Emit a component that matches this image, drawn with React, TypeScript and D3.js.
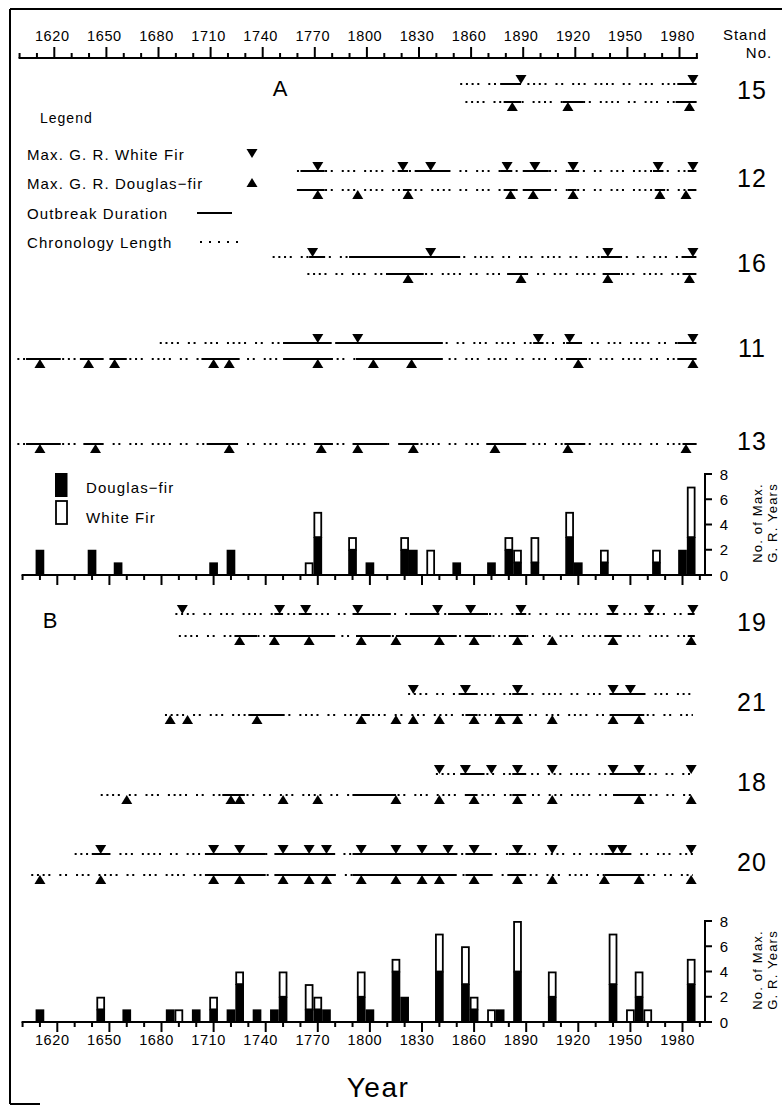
import React from "react";
import * as d3 from "d3";

// ---------- axis data ----------
const axisTickYears = d3.range(1600, 1991, 10);
const axisLabelYears = d3.range(1620, 1981, 30);
const countTicks = [0, 2, 4, 6, 8];

// ---------- legend texts ----------
const legendItems = ["Max. G. R. White Fir", "Max. G. R. Douglas\u2212fir", "Outbreak Duration", "Chronology Length"];
const histLegend = ["Douglas\u2212fir", "White Fir"];

// ---------- Panel A stands ----------
const s15WF = { start: 1852, end: 1988, outbreaks: [[1875, 1887], [1977, 1988]], peaks: [1887, 1986] };
const s15DF = { start: 1855, end: 1988, outbreaks: [[1877, 1887], [1911, 1923], [1976, 1988]], peaks: [1882, 1914, 1984] };
const s12WF = { start: 1758, end: 1988, outbreaks: [[1760, 1774], [1816, 1822], [1826, 1846], [1875, 1882], [1888, 1903], [1914, 1920], [1963, 1969], [1983, 1988]], peaks: [1770, 1819, 1835, 1879, 1895, 1917, 1966, 1986] };
const s12DF = { start: 1758, end: 1988, outbreaks: [[1758, 1774], [1819, 1824], [1877, 1884], [1888, 1904], [1914, 1919], [1964, 1970], [1983, 1988]], peaks: [1770, 1793, 1822, 1881, 1894, 1917, 1967, 1982] };
const s16WF = { start: 1744, end: 1988, outbreaks: [[1765, 1774], [1788, 1852], [1933, 1944], [1980, 1988]], peaks: [1767, 1835, 1937, 1986] };
const s16DF = { start: 1764, end: 1988, outbreaks: [[1810, 1831], [1879, 1890], [1934, 1944], [1980, 1988]], peaks: [1822, 1887, 1937, 1984] };
const s11WF = { start: 1679, end: 1988, outbreaks: [[1750, 1778], [1780, 1842], [1894, 1900], [1913, 1921], [1977, 1988]], peaks: [1770, 1793, 1897, 1915, 1986] };
const s11DF = { start: 1597, end: 1988, outbreaks: [[1602, 1622], [1633, 1646], [1650, 1660], [1703, 1725], [1750, 1778], [1792, 1842], [1913, 1925], [1977, 1988]], peaks: [1610, 1638, 1653, 1710, 1719, 1770, 1802, 1824, 1920, 1986] };
const s13DF = { start: 1597, end: 1988, outbreaks: [[1602, 1622], [1635, 1646], [1706, 1724], [1768, 1778], [1790, 1810], [1817, 1828], [1867, 1890], [1912, 1924], [1980, 1988]], peaks: [1610, 1642, 1719, 1772, 1793, 1825, 1872, 1914, 1982] };

// ---------- Panel A histogram ----------
const histAYears = [1610, 1640, 1655, 1710, 1720, 1765, 1770, 1790, 1800, 1820, 1825, 1835, 1850, 1870, 1880, 1885, 1895, 1915, 1920, 1935, 1965, 1980, 1985];
const histADF = [2, 2, 1, 1, 2, 0, 3, 2, 1, 2, 2, 0, 1, 1, 2, 1, 1, 3, 1, 1, 1, 2, 3];
const histAWF = [0, 0, 0, 0, 0, 1, 2, 1, 0, 1, 0, 2, 0, 0, 1, 1, 2, 2, 0, 1, 1, 0, 4];

// ---------- Panel B stands ----------
const s19WF = { start: 1688, end: 1987, outbreaks: [[1745, 1750], [1760, 1766], [1790, 1812], [1823, 1840], [1845, 1868], [1884, 1890], [1937, 1943], [1958, 1963], [1983, 1987]], peaks: [1692, 1748, 1763, 1793, 1839, 1858, 1887, 1940, 1961, 1986] };
const s19DF = { start: 1690, end: 1987, outbreaks: [[1722, 1735], [1742, 1780], [1792, 1812], [1815, 1850], [1855, 1870], [1880, 1890], [1935, 1945], [1983, 1987]], peaks: [1725, 1745, 1765, 1795, 1815, 1840, 1860, 1885, 1905, 1940, 1985] };
const s21WF = { start: 1822, end: 1986, outbreaks: [[1852, 1862], [1882, 1890], [1938, 1958]], peaks: [1825, 1855, 1885, 1940, 1950] };
const s21DF = { start: 1682, end: 1986, outbreaks: [[1730, 1750], [1795, 1800], [1855, 1862], [1872, 1888], [1938, 1958]], peaks: [1685, 1695, 1735, 1795, 1815, 1825, 1840, 1860, 1875, 1885, 1905, 1940, 1955] };
const s18WF = { start: 1838, end: 1986, outbreaks: [[1852, 1866], [1882, 1890], [1938, 1958]], peaks: [1840, 1855, 1870, 1885, 1905, 1940, 1955, 1985] };
const s18DF = { start: 1645, end: 1986, outbreaks: [[1715, 1728], [1790, 1815], [1855, 1862], [1882, 1890], [1940, 1958]], peaks: [1660, 1720, 1725, 1750, 1770, 1815, 1840, 1860, 1885, 1905, 1955, 1985] };
const s20WF = { start: 1630, end: 1986, outbreaks: [[1640, 1650], [1705, 1740], [1745, 1780], [1790, 1850], [1855, 1870], [1880, 1890], [1935, 1950]], peaks: [1645, 1710, 1725, 1750, 1765, 1775, 1795, 1815, 1830, 1845, 1860, 1885, 1905, 1940, 1945, 1985] };
const s20DF = { start: 1605, end: 1986, outbreaks: [[1705, 1740], [1745, 1780], [1790, 1850], [1855, 1870], [1880, 1890], [1935, 1958]], peaks: [1610, 1645, 1710, 1725, 1750, 1765, 1775, 1795, 1815, 1830, 1840, 1860, 1885, 1905, 1935, 1955, 1985] };

// ---------- Panel B histogram ----------
const histBYears = [1610, 1645, 1660, 1685, 1690, 1700, 1710, 1720, 1725, 1735, 1745, 1750, 1765, 1770, 1775, 1795, 1800, 1815, 1820, 1840, 1855, 1860, 1870, 1875, 1885, 1905, 1940, 1950, 1955, 1960, 1985];
const histBDF = [1, 1, 1, 1, 0, 1, 1, 1, 3, 1, 1, 2, 1, 1, 1, 2, 1, 4, 2, 4, 3, 1, 0, 1, 4, 2, 3, 0, 2, 0, 3];
const histBWF = [0, 1, 0, 0, 1, 0, 1, 0, 1, 0, 0, 2, 2, 1, 0, 2, 0, 1, 0, 3, 3, 1, 1, 0, 4, 2, 4, 1, 2, 1, 2];

const FONT = "'Liberation Sans', Arial, sans-serif";
const DOTS = "2 3.7 2 3.7 2 3.7 2 9 2 3.7 2 9 2 3.7 2 3.7 2 9";

type RowData = { start: number; end: number; outbreaks: number[][]; peaks: number[] };

const x = d3.scaleLinear().domain([1620, 1980]).range([57.3, 682.5]);

function tri(cx: number, cy: number, down: boolean, w = 11, h = 9) {
  const p = d3.path();
  if (down) {
    p.moveTo(cx - w / 2, cy - h);
    p.lineTo(cx + w / 2, cy - h);
    p.lineTo(cx, cy);
  } else {
    p.moveTo(cx, cy);
    p.lineTo(cx - w / 2, cy + h);
    p.lineTo(cx + w / 2, cy + h);
  }
  p.closePath();
  return p.toString();
}

function StandRow({ row, y, down }: { row: RowData; y: number; down: boolean }) {
  return (
    <g>
      <line x1={x(row.start)} x2={x(row.end)} y1={y} y2={y} stroke="#000" strokeWidth={2} strokeDasharray={DOTS} />
      {row.outbreaks.map((o, i) => (
        <line key={i} x1={x(o[0])} x2={x(o[1])} y1={y} y2={y} stroke="#000" strokeWidth={2} />
      ))}
      {row.peaks.map((p, i) => (
        <path key={"t" + i} d={tri(x(p), y, down)} fill="#000" />
      ))}
    </g>
  );
}

function Stand({ id, wf, df, yWF, yDF }: { id: string; wf?: RowData; df?: RowData; yWF?: number; yDF: number }) {
  const mid = wf && yWF !== undefined ? (yWF + yDF) / 2 : yDF;
  return (
    <g>
      {wf && yWF !== undefined && <StandRow row={wf} y={yWF} down={true} />}
      {df && <StandRow row={df} y={yDF} down={false} />}
      <text x={752} y={mid - 3} fontSize={25} fontFamily={FONT} textAnchor="middle" dominantBaseline="central" letterSpacing={1}>
        {id}
      </text>
    </g>
  );
}

function Histogram({ years, df, wf, base }: { years: number[]; df: number[]; wf: number[]; base: number }) {
  const y = d3.scaleLinear().domain([0, 8]).range([base, base - 101]);
  const axisX = 705;
  return (
    <g>
      {years.map((yr, i) => {
        const x0 = x(yr - 2.5);
        const x1 = x(yr + 2.5);
        return (
          <g key={yr}>
            {df[i] > 0 && <rect x={x0} y={y(df[i])} width={x1 - x0} height={y(0) - y(df[i])} fill="#000" />}
            {wf[i] > 0 && (
              <rect x={x0 + 0.9} y={y(df[i] + wf[i]) + 0.9} width={x1 - x0 - 1.8} height={y(df[i]) - y(df[i] + wf[i]) - 0.9} fill="#fff" stroke="#000" strokeWidth={1.8} />
            )}
          </g>
        );
      })}
      <line x1={x(1600) - 1} x2={axisX} y1={base} y2={base} stroke="#000" strokeWidth={2} />
      {axisTickYears.map((t) => (
        <line key={t} x1={x(t)} x2={x(t)} y1={base} y2={base + ((t - 1620) % 30 === 0 ? 10 : 5)} stroke="#000" strokeWidth={2} />
      ))}
      <line x1={axisX} x2={axisX} y1={base + 1} y2={y(8) - 1} stroke="#000" strokeWidth={2} />
      {countTicks.map((c) => (
        <g key={c}>
          <line x1={axisX} x2={axisX + 7} y1={y(c)} y2={y(c)} stroke="#000" strokeWidth={2} />
          <text x={724} y={y(c)} fontSize={15} fontFamily={FONT} textAnchor="middle" dominantBaseline="central">
            {c}
          </text>
        </g>
      ))}
      <g transform={`translate(0, ${base - 52})`}>
        <text transform="translate(757,0) rotate(-90)" fontSize={13} fontFamily={FONT} textAnchor="middle" dominantBaseline="central" letterSpacing={1.2}>
          No. of Max.
        </text>
        <text transform="translate(772,0) rotate(-90)" fontSize={13} fontFamily={FONT} textAnchor="middle" dominantBaseline="central" letterSpacing={1.2}>
          G. R. Years
        </text>
      </g>
    </g>
  );
}

export default function App() {
  const topY = 58;
  const histABase = 575;
  const histBBase = 1022;
  return (
    <svg width={782} height={1109} style={{ position: "absolute", left: 0, top: 0, background: "#fff" }}>
      <rect x={0} y={0} width={782} height={1109} fill="#fff" />
      {/* frame */}
      <line x1={10} x2={782} y1={9} y2={9} stroke="#000" strokeWidth={2} />
      <line x1={10} x2={10} y1={9} y2={1104} stroke="#000" strokeWidth={2} />
      <line x1={10} x2={40} y1={1104} y2={1104} stroke="#000" strokeWidth={2} />

      {/* top axis */}
      <line x1={x(1600) - 4} x2={x(1990) - 2} y1={topY} y2={topY} stroke="#000" strokeWidth={2} />
      {axisTickYears.map((t) => (
        <line key={t} x1={x(t) - 3} x2={x(t) - 3} y1={topY} y2={topY - ((t - 1620) % 30 === 0 ? 11 : 5)} stroke="#000" strokeWidth={2} />
      ))}
      {axisLabelYears.map((t) => (
        <text key={t} x={x(t) - 5} y={36} fontSize={14.5} fontFamily={FONT} textAnchor="middle" dominantBaseline="central" letterSpacing={0.6}>
          {t}
        </text>
      ))}
      <text x={745} y={34} fontSize={15} fontFamily={FONT} textAnchor="middle" dominantBaseline="central" letterSpacing={1}>Stand</text>
      <text x={759} y={52} fontSize={15} fontFamily={FONT} textAnchor="middle" dominantBaseline="central" letterSpacing={1}>No.</text>

      {/* Panel A */}
      <text x={280} y={88} fontSize={22} fontFamily={FONT} textAnchor="middle" dominantBaseline="central">A</text>
      <text x={40} y={118} fontSize={14} fontFamily={FONT} dominantBaseline="central" letterSpacing={1}>Legend</text>
      {legendItems.map((t, i) => (
        <text key={t} x={27} y={154 + i * 29.5} fontSize={15} fontFamily={FONT} dominantBaseline="central" letterSpacing={1.1}>
          {t}
        </text>
      ))}
      <path d={tri(252, 158, true)} fill="#000" />
      <path d={tri(252, 178, false)} fill="#000" />
      <line x1={197} x2={232} y1={213} y2={213} stroke="#000" strokeWidth={2} />
      <line x1={200} x2={238} y1={242} y2={242} stroke="#000" strokeWidth={2} strokeDasharray="2 7" />

      <Stand id="15" wf={s15WF} df={s15DF} yWF={84} yDF={102} />
      <Stand id="12" wf={s12WF} df={s12DF} yWF={171} yDF={190} />
      <Stand id="16" wf={s16WF} df={s16DF} yWF={257} yDF={274} />
      <Stand id="11" wf={s11WF} df={s11DF} yWF={343} yDF={359} />
      <Stand id="13" df={s13DF} yDF={444} />

      {/* histogram A legend */}
      <rect x={55} y={473} width={12.5} height={24} fill="#000" />
      <rect x={56} y={501} width={11} height={23} fill="#fff" stroke="#000" strokeWidth={1.8} />
      {histLegend.map((t, i) => (
        <text key={t} x={86} y={487 + i * 30} fontSize={15} fontFamily={FONT} dominantBaseline="central" letterSpacing={1.1}>
          {t}
        </text>
      ))}
      <Histogram years={histAYears} df={histADF} wf={histAWF} base={histABase} />

      {/* Panel B */}
      <text x={50} y={620} fontSize={22} fontFamily={FONT} textAnchor="middle" dominantBaseline="central">B</text>
      <Stand id="19" wf={s19WF} df={s19DF} yWF={614} yDF={636} />
      <Stand id="21" wf={s21WF} df={s21DF} yWF={694} yDF={715} />
      <Stand id="18" wf={s18WF} df={s18DF} yWF={774} yDF={795} />
      <Stand id="20" wf={s20WF} df={s20DF} yWF={854} yDF={875} />
      <Histogram years={histBYears} df={histBDF} wf={histBWF} base={histBBase} />

      {axisLabelYears.map((t) => (
        <text key={t} x={x(t) - 5} y={1040} fontSize={14.5} fontFamily={FONT} textAnchor="middle" dominantBaseline="central" letterSpacing={0.6}>
          {t}
        </text>
      ))}
      <text x={378} y={1087} fontSize={28} fontFamily={FONT} textAnchor="middle" dominantBaseline="central" letterSpacing={1.5}>Year</text>
    </svg>
  );
}
